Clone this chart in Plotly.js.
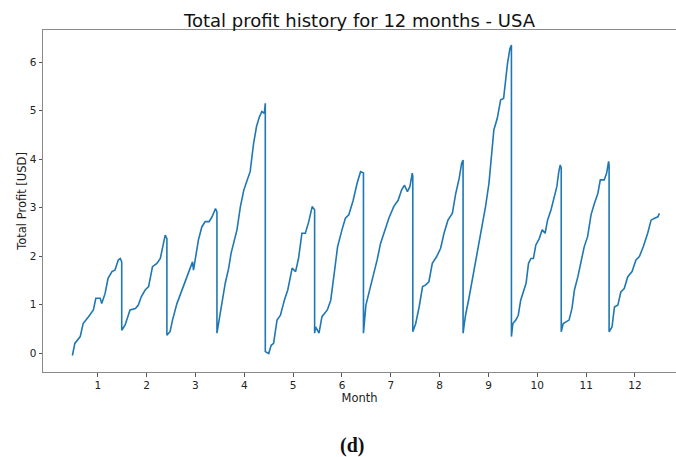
<!DOCTYPE html>
<html>
<head>
<meta charset="utf-8">
<script src="https://cdn.plot.ly/plotly-3.0.1.min.js"></script>
<style>html,body{margin:0;padding:0;background:#fff;}#chart{width:676px;height:457px;}</style>
</head>
<body>
<div id="chart"></div>
<script>
const monthTicks = [1,2,3,4,5,6,7,8,9,10,11,12];
const profitTicks = [0,1,2,3,4,5,6];

const x1 = [0.48,0.53,0.64,0.70,0.81,0.91,0.96,1.05,1.08,1.15,1.21,1.29,1.35,1.42,1.46,1.49];
const y1 = [-0.05,0.20,0.34,0.61,0.75,0.89,1.13,1.13,1.02,1.23,1.54,1.68,1.71,1.92,1.95,1.88];
const x2 = [1.49,1.56,1.66,1.77,1.83,1.89,1.97,2.04,2.12,2.21,2.28,2.35,2.38,2.415];
const y2 = [0.47,0.58,0.89,0.92,0.99,1.16,1.30,1.37,1.78,1.85,1.95,2.26,2.43,2.36];
const x3 = [2.415,2.48,2.53,2.62,2.72,2.79,2.87,2.94,2.96,3.02,3.06,3.13,3.20,3.28,3.34,3.41,3.44];
const y3 = [0.37,0.44,0.68,1.02,1.30,1.50,1.71,1.88,1.71,2.06,2.33,2.60,2.71,2.71,2.81,2.98,2.91];
const x4 = [3.44,3.49,3.54,3.61,3.68,3.73,3.80,3.85,3.92,3.99,4.06,4.12,4.19,4.25,4.31,4.36,4.41,4.43];
const y4 = [0.41,0.75,1.02,1.44,1.75,2.06,2.33,2.54,3.02,3.36,3.57,3.74,4.32,4.67,4.87,4.98,4.94,5.15];
const x5 = [4.43,4.50,4.55,4.60,4.67,4.74,4.82,4.89,4.98,5.05,5.11,5.18,5.25,5.32,5.39,5.44];
const y5 = [0.03,-0.01,0.16,0.20,0.68,0.78,1.09,1.30,1.75,1.68,1.95,2.47,2.47,2.71,3.02,2.95];
const x6 = [5.44,5.46,5.53,5.59,5.70,5.77,5.85,5.91,6.00,6.07,6.14,6.23,6.31,6.38,6.44];
const y6 = [0.41,0.54,0.41,0.75,0.89,1.09,1.71,2.19,2.54,2.78,2.85,3.15,3.50,3.74,3.71];
const x7 = [6.44,6.49,6.55,6.65,6.72,6.79,6.87,6.96,7.06,7.15,7.22,7.28,7.34,7.39,7.44,7.45];
const y7 = [0.41,0.99,1.23,1.64,1.92,2.26,2.50,2.78,3.02,3.15,3.36,3.46,3.33,3.43,3.71,3.64];
const x8 = [7.45,7.51,7.58,7.65,7.71,7.78,7.85,7.94,8.02,8.09,8.17,8.26,8.33,8.40,8.45,8.48];
const y8 = [0.44,0.61,0.95,1.37,1.40,1.47,1.85,1.99,2.16,2.47,2.74,2.88,3.29,3.60,3.91,3.98];
const x9 = [8.48,8.53,8.60,8.67,8.74,8.81,8.88,8.94,9.01,9.05,9.11,9.18,9.25,9.31,9.35,9.39,9.44,9.47];
const y9 = [0.41,0.78,1.13,1.51,1.92,2.26,2.67,3.02,3.50,4.00,4.60,4.84,5.22,5.25,5.63,5.97,6.28,6.35];
const x10 = [9.47,9.50,9.56,9.61,9.66,9.71,9.77,9.82,9.87,9.92,9.97,10.04,10.10,10.16,10.21,10.28,10.35,10.40,10.44,10.47,10.49];
const y10 = [0.34,0.61,0.68,0.78,1.09,1.23,1.44,1.85,1.95,1.95,2.23,2.36,2.54,2.47,2.74,2.95,3.22,3.43,3.74,3.88,3.81];
const x11 = [10.49,10.53,10.59,10.65,10.71,10.76,10.83,10.90,10.96,11.03,11.10,11.17,11.24,11.29,11.37,11.42,11.46,11.47];
const y11 = [0.44,0.61,0.65,0.68,0.92,1.30,1.57,1.92,2.19,2.40,2.85,3.09,3.29,3.57,3.57,3.71,3.95,3.88];
const x12 = [11.47,11.53,11.58,11.65,11.71,11.78,11.85,11.94,12.02,12.09,12.17,12.26,12.33,12.40,12.47,12.50];
const y12 = [0.44,0.54,0.95,0.99,1.26,1.33,1.57,1.68,1.92,1.99,2.19,2.47,2.74,2.78,2.81,2.88];

const allX = [].concat(x1,x2,x3,x4,x5,x6,x7,x8,x9,x10,x11,x12);
const allY = [].concat(y1,y2,y3,y4,y5,y6,y7,y8,y9,y10,y11,y12);

const font = "DejaVu Sans, sans-serif";
const trace = {
  x: allX, y: allY, type: 'scatter', mode: 'lines',
  line: {color: '#1f77b4', width: 1.6}, hoverinfo: 'skip'
};
const layout = {
  width: 676, height: 457,
  margin: {l: 43, r: 0, t: 30, b: 85},
  paper_bgcolor: '#fff', plot_bgcolor: '#fff',
  showlegend: false,
  font: {family: font, color: '#222', size: 11},
  title: {text: 'Total profit history for 12 months - USA', x: 0.5, xref: 'paper', y: 0.955, yanchor: 'middle',
          font: {family: font, size: 18, color: '#111'}},
  xaxis: {
    range: [-0.122, 12.84], tickvals: monthTicks, ticktext: monthTicks.map(String),
    showgrid: false, zeroline: false, showline: true, linecolor: '#8a8a8a', linewidth: 1, mirror: true,
    ticks: 'outside', ticklen: 3.5, tickcolor: '#555', tickfont: {family: font, size: 10.5, color: '#222'},
    title: {text: 'Month', standoff: 0, font: {family: font, size: 11.5, color: '#222'}}
  },
  yaxis: {
    range: [-0.39, 6.66], tickvals: profitTicks, ticktext: profitTicks.map(String),
    showgrid: false, zeroline: false, showline: true, linecolor: '#8a8a8a', linewidth: 1,
    ticks: 'outside', ticklen: 3.5, tickcolor: '#555', tickfont: {family: font, size: 10.5, color: '#222'},
    title: {text: 'Total Profit [USD]', standoff: 0, font: {family: font, size: 11.5, color: '#222'}}
  },
  annotations: [{
    text: '<b>(d)</b>', xref: 'paper', yref: 'paper', x: (352 - 43) / 633, y: (372 - 445) / 342,
    xanchor: 'center', yanchor: 'middle', showarrow: false,
    font: {family: 'Liberation Serif, serif', size: 20, color: '#111'}
  }]
};
Plotly.newPlot('chart', [trace], layout, {staticPlot: true, displayModeBar: false});
</script>
</body>
</html>
